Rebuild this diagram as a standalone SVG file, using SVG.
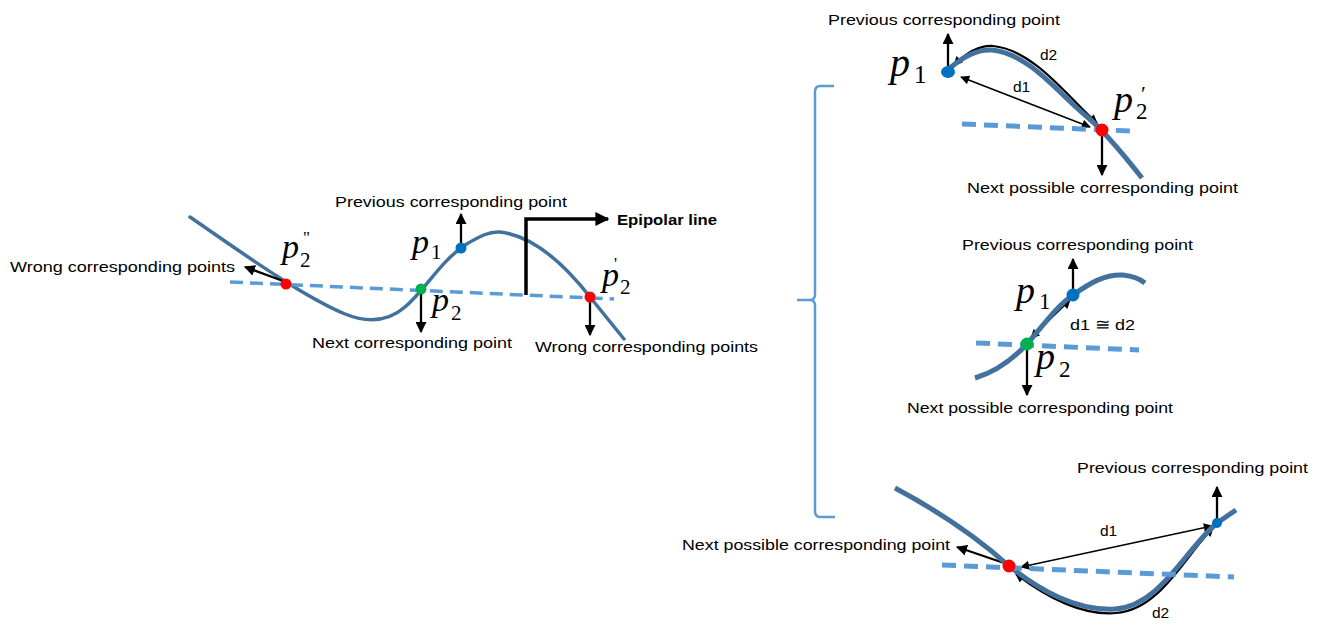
<svg xmlns="http://www.w3.org/2000/svg" width="1324" height="624" viewBox="0 0 1324 624">
<defs>
<style>
.curve{fill:none;stroke:#41719C;stroke-width:3.5;stroke-linecap:round}
.curveR{fill:none;stroke:#41719C;stroke-width:5;stroke-linecap:butt}
.epi{fill:none;stroke:#5B9BD5;stroke-width:3.5;stroke-dasharray:13 7}
.epiR{fill:none;stroke:#5B9BD5;stroke-width:5;stroke-dasharray:14 8}
.brace{fill:none;stroke:#5B9BD5;stroke-width:2.5}
.arr{fill:none;stroke:#000;stroke-width:2.3;marker-end:url(#ah)}
.darr{fill:none;stroke:#000;stroke-width:1.6;marker-end:url(#ahs);marker-start:url(#ahs)}
.d2{fill:none;stroke:#000;stroke-width:2.2;marker-end:url(#ahs);marker-start:url(#ahs)}
.lbl{font-family:"Liberation Sans",Arial,sans-serif;font-size:15.5px;fill:#000}
.math{font-family:"Liberation Serif","Times New Roman",serif;font-style:italic;fill:#000}
.sub{font-family:"Liberation Serif","Times New Roman",serif;fill:#000}
</style>
<marker id="ah" viewBox="0 0 10 10" refX="9" refY="5" markerWidth="11" markerHeight="11" markerUnits="userSpaceOnUse" orient="auto-start-reverse"><path d="M0,0 L10,5 L0,10 z" fill="#000"/></marker>
<marker id="ahs" viewBox="0 0 10 10" refX="9" refY="5" markerWidth="10" markerHeight="9" markerUnits="userSpaceOnUse" orient="auto-start-reverse"><path d="M0,0 L10,5 L0,10 z" fill="#000"/></marker>
<marker id="ahb" viewBox="0 0 10 10" refX="9" refY="5" markerWidth="14" markerHeight="14" markerUnits="userSpaceOnUse" orient="auto"><path d="M0,0 L10,5 L0,10 z" fill="#000"/></marker>
</defs>
<rect width="1324" height="624" fill="#fff"/>

<!-- Left panel -->
<g id="left-panel">
<path class="curve" d="M190,217 C235,248 300,295 345,314 C370,324 390,320 405,307 C425,290 440,262 465,245 C480,236 490,231 500,232 C535,236 565,265 590,297 L624,339"/>
<path class="epi" d="M230,282 L614,299"/>
</g>

<g id="connectors">
<path class="arr" d="M283,281 L245,267"/>
<path class="arr" d="M461,244 L461,214"/>
<path class="arr" d="M421,293 L421,332"/>
<path class="arr" d="M590,301 L590,335"/>
<path d="M526,295 V219 H608" fill="none" stroke="#000" stroke-width="3.5" marker-end="url(#ahb)"/>
<!-- right top -->
<path class="arr" d="M948,66 L948,34"/>
<path class="arr" d="M1102,136 L1102,175"/>
<path class="darr" d="M961,77 L1090,127"/>
<path class="d2" d="M1097,123 C1070,100 1035,50 993,46 C978,45 965,54 954,65"/>
<!-- right middle -->
<path class="arr" d="M1073,290 L1073,259"/>
<path class="arr" d="M1027,349 L1027,395"/>
<path class="darr" d="M1031,338 L1070,300"/>
<!-- right bottom -->
<path class="arr" d="M1217,520 L1217,487"/>
<path class="arr" d="M1004,563 L957,547"/>
<path class="darr" d="M1021,567 L1212,526"/>
<path class="d2" d="M1016,574 C1045,596 1080,616 1116,613 C1160,610 1185,556 1213,528"/>
</g>

<g id="left-points">
<circle cx="286" cy="284" r="5.5" fill="#FF0000"/>
<circle cx="421" cy="289" r="5.5" fill="#00B050"/>
<circle cx="461" cy="248" r="5.5" fill="#0070C0"/>
<circle cx="590" cy="297" r="5.5" fill="#FF0000"/>
</g>

<g id="left-labels">
<text class="lbl" x="10" y="272" textLength="225" lengthAdjust="spacingAndGlyphs">Wrong corresponding points</text>
<text class="lbl" x="335" y="207" textLength="232" lengthAdjust="spacingAndGlyphs">Previous corresponding point</text>
<text class="lbl" x="617" y="225" textLength="100" lengthAdjust="spacingAndGlyphs" font-weight="bold">Epipolar line</text>
<text class="lbl" x="312" y="348" textLength="200" lengthAdjust="spacingAndGlyphs">Next corresponding point</text>
<text class="lbl" x="535" y="352" textLength="223" lengthAdjust="spacingAndGlyphs">Wrong corresponding points</text>
<text class="math" x="282" y="258" font-size="34">p</text><text class="sub" x="300" y="267" font-size="21">2</text><text class="sub" x="303" y="243" font-size="17">"</text>
<text class="math" x="412" y="253" font-size="34">p</text><text class="sub" x="431" y="259" font-size="21">1</text>
<text class="math" x="432" y="311" font-size="34">p</text><text class="sub" x="451" y="320" font-size="21">2</text>
<text class="math" x="602" y="286" font-size="34">p</text><text class="sub" x="620" y="294" font-size="21">2</text><text class="sub" x="614" y="269" font-size="17">'</text>
</g>

<g id="brace">
<path class="brace" d="M834,86 H820 Q815,86 815,92 V294 Q815,300 810,300 H797 H810 Q815,300 815,306 V511 Q815,517 820,517 H835"/>
</g>

<!-- Right top panel -->
<g id="right-top">
<path class="curveR" d="M950,68 C965,55 980,49 992,50 C1030,54 1060,95 1085,115 C1100,127 1120,150 1142,178"/>
<path class="epiR" d="M962,124 L1131,131"/>
<ellipse cx="948" cy="72" rx="7" ry="6" fill="#0070C0"/>
<circle cx="1102" cy="130" r="6.5" fill="#FF0000"/>
<text class="lbl" x="828" y="25" textLength="232" lengthAdjust="spacingAndGlyphs">Previous corresponding point</text>
<text class="lbl" x="1040" y="60">d2</text>
<text class="lbl" x="1013" y="92">d1</text>
<text class="lbl" x="967" y="193" textLength="271" lengthAdjust="spacingAndGlyphs">Next possible corresponding point</text>
<text class="math" x="890" y="76" font-size="40">p</text><text class="sub" x="914" y="83" font-size="25">1</text>
<text class="math" x="1114" y="112" font-size="38">p</text><text class="sub" x="1136" y="119" font-size="23">2</text><text class="sub" x="1141" y="101" font-size="22">′</text>
</g>

<!-- Right middle panel -->
<g id="right-middle">
<path class="curveR" d="M975,378 C995,372 1012,360 1027,344 C1045,323 1058,305 1073,295 C1090,283 1105,274 1123,275 C1132,276 1140,279 1145,283"/>
<path class="epiR" d="M976,343 L1139,350"/>
<circle cx="1073" cy="295" r="6.5" fill="#0070C0"/>
<circle cx="1027" cy="344" r="6.5" fill="#00B050"/>
<text class="lbl" x="962" y="250" textLength="231" lengthAdjust="spacingAndGlyphs">Previous corresponding point</text>
<text class="lbl" x="1070" y="330" textLength="65" lengthAdjust="spacingAndGlyphs">d1 ≅ d2</text>
<text class="lbl" x="907" y="413" textLength="266" lengthAdjust="spacingAndGlyphs">Next possible corresponding point</text>
<text class="math" x="1016" y="303" font-size="38">p</text><text class="sub" x="1039" y="309" font-size="23">1</text>
<text class="math" x="1036" y="369" font-size="38">p</text><text class="sub" x="1059" y="377" font-size="23">2</text>
</g>

<!-- Right bottom panel -->
<g id="right-bottom">
<path class="curveR" d="M895,488 C940,512 980,540 1009,566 C1040,590 1075,611 1115,609 C1160,606 1185,550 1217,523 L1236,510"/>
<path class="epiR" d="M942,565 L1234,577"/>
<circle cx="1009" cy="566" r="6.5" fill="#FF0000"/>
<circle cx="1217" cy="523" r="5" fill="#0070C0"/>
<text class="lbl" x="1077" y="473" textLength="231" lengthAdjust="spacingAndGlyphs">Previous corresponding point</text>
<text class="lbl" x="1100" y="536">d1</text>
<text class="lbl" x="682" y="550" textLength="268" lengthAdjust="spacingAndGlyphs">Next possible corresponding point</text>
<text class="lbl" x="1152" y="618">d2</text>
</g>
</svg>
